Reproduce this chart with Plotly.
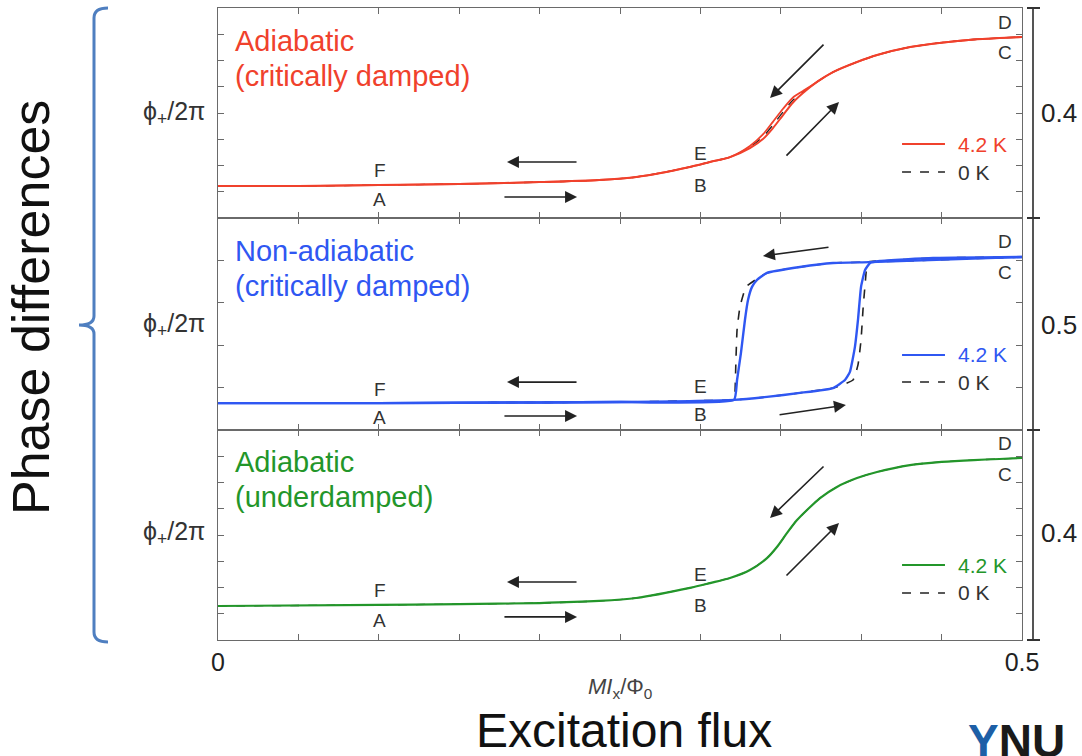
import plotly.graph_objects as go
from plotly.subplots import make_subplots

# ---------------- data ----------------
# top panel: adiabatic, critically damped (red)
x_red = [0, 0.05, 0.1, 0.15, 0.2, 0.237, 0.26, 0.2935, 0.3060, 0.3184, 0.3308, 0.3389, 0.3451, 0.3514, 0.3576, 0.3638, 0.3725, 0.3825, 0.3974, 0.4098, 0.4303, 0.45, 0.47, 0.486, 0.5]
red_up = [0.3652, 0.3652, 0.3657, 0.3662, 0.3671, 0.3681, 0.3695, 0.3743, 0.3767, 0.3790, 0.3833, 0.3876, 0.3928, 0.3990, 0.4050, 0.4095, 0.4148, 0.4195, 0.4243, 0.4276, 0.4314, 0.4335, 0.4350, 0.4357, 0.4362]
red_down = [0.3652, 0.3652, 0.3657, 0.3662, 0.3671, 0.3681, 0.3695, 0.3743, 0.3767, 0.3790, 0.3843, 0.3898, 0.3958, 0.4020, 0.4074, 0.4105, 0.4148, 0.4195, 0.4243, 0.4276, 0.4314, 0.4335, 0.4350, 0.4357, 0.4362]
red_0K = [0.3652, 0.3652, 0.3657, 0.3662, 0.3671, 0.3681, 0.3695, 0.3743, 0.3767, 0.3790, 0.3838, 0.3887, 0.3943, 0.4005, 0.4062, 0.4100, 0.4148, 0.4195, 0.4243, 0.4276, 0.4314, 0.4335, 0.4350, 0.4357, 0.4362]

# middle panel: non-adiabatic, critically damped (blue) - hysteresis loop
x_blue_fwd = [0, 0.1, 0.2, 0.25, 0.3209, 0.3414, 0.3619, 0.3825, 0.3899, 0.3930, 0.3961, 0.3980, 0.3999, 0.4024, 0.4055, 0.4117, 0.4447, 0.5]
blue_fwd = [0.4627, 0.4627, 0.4630, 0.4632, 0.4642, 0.4656, 0.4675, 0.4698, 0.4736, 0.4774, 0.4892, 0.5019, 0.5175, 0.5255, 0.5288, 0.5297, 0.5311, 0.5316]
x_blue_bwd = [0.5, 0.4055, 0.3825, 0.3619, 0.3414, 0.3352, 0.3321, 0.3296, 0.3277, 0.3252, 0.3228, 0.3209, 0.25, 0.2, 0.1, 0]
blue_bwd = [0.5316, 0.5292, 0.5288, 0.5269, 0.5241, 0.5208, 0.5175, 0.5113, 0.5019, 0.4863, 0.4736, 0.4642, 0.4632, 0.4630, 0.4627, 0.4627]
x_blue0_fwd = [0, 0.1, 0.2, 0.25, 0.3209, 0.3414, 0.3619, 0.3825, 0.3949, 0.3980, 0.3999, 0.4011, 0.4024, 0.4042, 0.4117, 0.4447, 0.5]
blue0_fwd = [0.4627, 0.4627, 0.4630, 0.4632, 0.4642, 0.4656, 0.4675, 0.4698, 0.4736, 0.4807, 0.4925, 0.5066, 0.5184, 0.5292, 0.5297, 0.5311, 0.5316]
x_blue0_bwd = [0.5, 0.4055, 0.3825, 0.3619, 0.3414, 0.3284, 0.3246, 0.3228, 0.3221, 0.3215, 0.3209, 0.25, 0.2, 0.1, 0]
blue0_bwd = [0.5316, 0.5292, 0.5288, 0.5269, 0.5241, 0.5175, 0.5080, 0.4972, 0.4830, 0.4675, 0.4642, 0.4632, 0.4630, 0.4627, 0.4627]

# bottom panel: adiabatic, underdamped (green)
x_green = [0, 0.1, 0.15, 0.2, 0.237, 0.26, 0.2935, 0.3060, 0.3184, 0.3308, 0.3414, 0.3476, 0.3539, 0.3601, 0.3663, 0.3744, 0.3849, 0.3974, 0.4098, 0.4303, 0.45, 0.47, 0.486, 0.5]
green = [0.3662, 0.3667, 0.3671, 0.3676, 0.3686, 0.3700, 0.3748, 0.3771, 0.3795, 0.3833, 0.3890, 0.3943, 0.4010, 0.4071, 0.4119, 0.4176, 0.4229, 0.4271, 0.4300, 0.4333, 0.4348, 0.4357, 0.4362, 0.4367]

panel_titles = [["Adiabatic", "(critically damped)"],
                ["Non-adiabatic", "(critically damped)"],
                ["Adiabatic", "(underdamped)"]]
right_labels = ["0.4", "0.5", "0.4"]
x_tick_labels = ["0", "0.5"]
legend_labels = ["4.2 K", "0 K"]

RED, BLUE, GREEN = "#f0412c", "#2f57f2", "#23962a"
COLORS = [RED, BLUE, GREEN]
FONT = "Liberation Sans, Arial, sans-serif"

# panel y ranges (data units)
y_ranges = [[0.35, 0.45], [0.45, 0.55], [0.35, 0.45]]
y_dticks = [0.0125, 0.02, 0.0125]

# pixel -> paper helpers for the surrounding slide decoration
L, R, T, B = 218, 1022, 8, 640
W, H = 1082, 756
def pxx(p):
    return (p - L) / (R - L)
def pxy(p):
    return (B - p) / (B - T)

fig = make_subplots(rows=3, cols=1, shared_xaxes=True, vertical_spacing=0,
                    row_heights=[210, 212, 210])

def line(x, y, color, row, dash="solid", width=2.4, smooth=0.8):
    fig.add_trace(go.Scatter(x=x, y=y, mode="lines",
                             line=dict(color=color, width=width, dash=dash, shape="spline", smoothing=smooth),
                             showlegend=False, hoverinfo="skip"), row=row, col=1)

# top
line(x_red, red_0K, "#222222", 1, dash="dash", width=1.3)
line(x_red, red_up, RED, 1, width=2.0)
line(x_red, red_down, RED, 1, width=1.8)
# middle
line(x_blue0_fwd, blue0_fwd, "#222222", 2, dash="dash", width=1.6, smooth=0.4)
line(x_blue0_bwd, blue0_bwd, "#222222", 2, dash="dash", width=1.6, smooth=0.4)
line(x_blue_fwd, blue_fwd, BLUE, 2, smooth=0.4)
line(x_blue_bwd, blue_bwd, BLUE, 2, smooth=0.4)
# bottom
line(x_green, green, "#222222", 3, dash="dash", width=1.3)
line(x_green, green, GREEN, 3, width=2.2)

AX = dict(showline=True, linecolor="#6a6a6a", linewidth=1.3, mirror="allticks",
          ticks="inside", ticklen=6, tickcolor="#6a6a6a", tickwidth=1.2,
          showgrid=False, zeroline=False)

xt = [round(i * 0.05, 2) for i in range(11)]
for i in range(1, 4):
    fig.update_xaxes(range=[0, 0.5], tickvals=xt, showticklabels=False, **AX, row=i, col=1)
    fig.update_yaxes(range=y_ranges[i - 1], dtick=y_dticks[i - 1], tick0=y_ranges[i - 1][0],
                     showticklabels=False, **AX, row=i, col=1)
fig.update_xaxes(showticklabels=True, ticktext=[x_tick_labels[0]] + [""] * 9 + [x_tick_labels[1]],
                 tickfont=dict(family=FONT, size=25, color="#222"), ticklabelstandoff=0, row=3, col=1)

ann = []
shapes = []
axn = ["", "2", "3"]

# letters, arrows, legends per panel (data coordinates)
letters = [
    [("F", 0.1007, 0.3724), ("A", 0.1007, 0.3586), ("E", 0.2998, 0.3805), ("B", 0.2998, 0.3657), ("D", 0.4894, 0.4429), ("C", 0.4894, 0.4286)],
    [("F", 0.1007, 0.4689), ("A", 0.1007, 0.4557), ("E", 0.2998, 0.4703), ("B", 0.2998, 0.4571), ("D", 0.4894, 0.5387), ("C", 0.4894, 0.5245)],
    [("F", 0.1007, 0.3738), ("A", 0.1007, 0.3595), ("E", 0.2998, 0.3814), ("B", 0.2998, 0.3662), ("D", 0.4894, 0.4438), ("C", 0.4894, 0.4286)],
]
arrows = [
    [(0.2239, 0.3767, 0.1797, 0.3767), (0.1772, 0.3600, 0.2233, 0.3600), (0.3775, 0.4333, 0.3433, 0.4071), (0.3526, 0.3790, 0.3862, 0.4052)],
    [(0.2239, 0.4726, 0.1797, 0.4726), (0.1772, 0.4566, 0.2233, 0.4566), (0.3806, 0.5363, 0.3389, 0.5321), (0.3483, 0.4571, 0.3905, 0.4618)],
    [(0.2239, 0.3776, 0.1797, 0.3776), (0.1772, 0.3610, 0.2233, 0.3610), (0.3775, 0.4333, 0.3433, 0.4081), (0.3526, 0.3800, 0.3862, 0.4057)],
]
legend_y = [(0.3852, 0.3719), (0.4854, 0.4726), (0.3857, 0.3724)]

for k in range(3):
    xr, yr = "x" + axn[k], "y" + axn[k]
    for (t, x, y) in letters[k]:
        ann.append(dict(x=x, y=y, xref=xr, yref=yr, text=t, showarrow=False,
                        xanchor="center", yanchor="middle",
                        font=dict(family=FONT, size=19, color="#333")))
    for (x0, y0, x1, y1) in arrows[k]:
        ann.append(dict(x=x1, y=y1, ax=x0, ay=y0, xref=xr, yref=yr, axref=xr, ayref=yr,
                        text="", showarrow=True, arrowhead=2, arrowsize=1.5, arrowwidth=1.6,
                        arrowcolor="#222"))
    ys, yd = legend_y[k]
    shapes.append(dict(type="line", xref=xr, yref=yr, x0=0.4254, x1=0.4521, y0=ys, y1=ys,
                       line=dict(color=COLORS[k], width=2)))
    shapes.append(dict(type="line", xref=xr, yref=yr, x0=0.4254, x1=0.4521, y0=yd, y1=yd,
                       line=dict(color="#222", width=1.5, dash="dash")))
    ann.append(dict(x=0.4590, y=ys, xref=xr, yref=yr, text=legend_labels[0], showarrow=False,
                    xanchor="left", yanchor="middle", font=dict(family=FONT, size=21, color=COLORS[k])))
    ann.append(dict(x=0.4590, y=yd, xref=xr, yref=yr, text=legend_labels[1], showarrow=False,
                    xanchor="left", yanchor="middle", font=dict(family=FONT, size=21, color="#333")))

# panel titles (paper coords from pixel positions)
title_y = [(41, 76), (251, 286), (462, 497)]
for k in range(3):
    for j in range(2):
        ann.append(dict(x=pxx(233), y=pxy(title_y[k][j]), xref="paper", yref="paper",
                        text=panel_titles[k][j], showarrow=False, xanchor="left", yanchor="middle",
                        font=dict(family=FONT, size=29, color=COLORS[k])))

# left "phi+/2pi" labels and right-hand value labels
mid_y = [113, 325, 533]
for k in range(3):
    ann.append(dict(x=pxx(207), y=pxy(mid_y[k]), xref="paper", yref="paper",
                    text="ϕ<sub>+</sub>/2π", showarrow=False, xanchor="right", yanchor="middle",
                    font=dict(family=FONT, size=25, color="#333")))
    ann.append(dict(x=pxx(1039), y=pxy(mid_y[k]), xref="paper", yref="paper",
                    text=right_labels[k], showarrow=False, xanchor="left", yanchor="middle",
                    font=dict(family=FONT, size=26, color="#222")))

# right-hand scale bar
shapes.append(dict(type="line", xref="paper", yref="paper", x0=pxx(1033), x1=pxx(1033),
                   y0=pxy(8), y1=pxy(640), line=dict(color="#555", width=2)))
for yy in [8, 218, 430, 640]:
    shapes.append(dict(type="line", xref="paper", yref="paper", x0=pxx(1027), x1=pxx(1040),
                       y0=pxy(yy), y1=pxy(yy), line=dict(color="#333", width=2)))

# x-axis title
ann.append(dict(x=pxx(620), y=pxy(688), xref="paper", yref="paper",
                text="<i>MI</i><sub>x</sub>/Φ<sub>0</sub>", showarrow=False,
                xanchor="center", yanchor="middle",
                font=dict(family=FONT, size=22, color="#444")))

# slide texts
ann.append(dict(x=pxx(31), y=pxy(308), xref="paper", yref="paper", text="Phase differences",
                textangle=-90, showarrow=False, xanchor="center", yanchor="middle",
                font=dict(family=FONT, size=52, color="#111")))
ann.append(dict(x=pxx(624), y=pxy(730), xref="paper", yref="paper", text="Excitation flux",
                showarrow=False, xanchor="center", yanchor="middle",
                font=dict(family=FONT, size=48, color="#111")))
ann.append(dict(x=pxx(966), y=pxy(741), xref="paper", yref="paper", xanchor="left", yanchor="middle",
                text="<b><span style='color:#1d5fa6'>Y</span>NU</b>", showarrow=False,
                font=dict(family=FONT, size=46, color="#1a1a1a")))

# blue curly bracket
def P(x, y):
    return f"{pxx(x):.5f},{pxy(y):.5f}"
path = (f"M {P(108, 8)} Q {P(94, 8)} {P(94, 18)} L {P(94, 316)} Q {P(94, 325)} {P(79, 325)} "
        f"Q {P(94, 325)} {P(94, 334)} L {P(94, 632)} Q {P(94, 642)} {P(108, 642)}")
shapes.append(dict(type="path", xref="paper", yref="paper", path=path,
                   line=dict(color="#4f7fc0", width=3)))

fig.update_layout(width=W, height=H, margin=dict(l=L, r=W - R, t=T, b=H - B),
                  paper_bgcolor="white", plot_bgcolor="white", showlegend=False,
                  annotations=ann, shapes=shapes, font=dict(family=FONT))

fig.write_html("out.html", config={"displayModeBar": False},
               post_script="document.body.style.margin='0';document.body.style.overflow='hidden';")
